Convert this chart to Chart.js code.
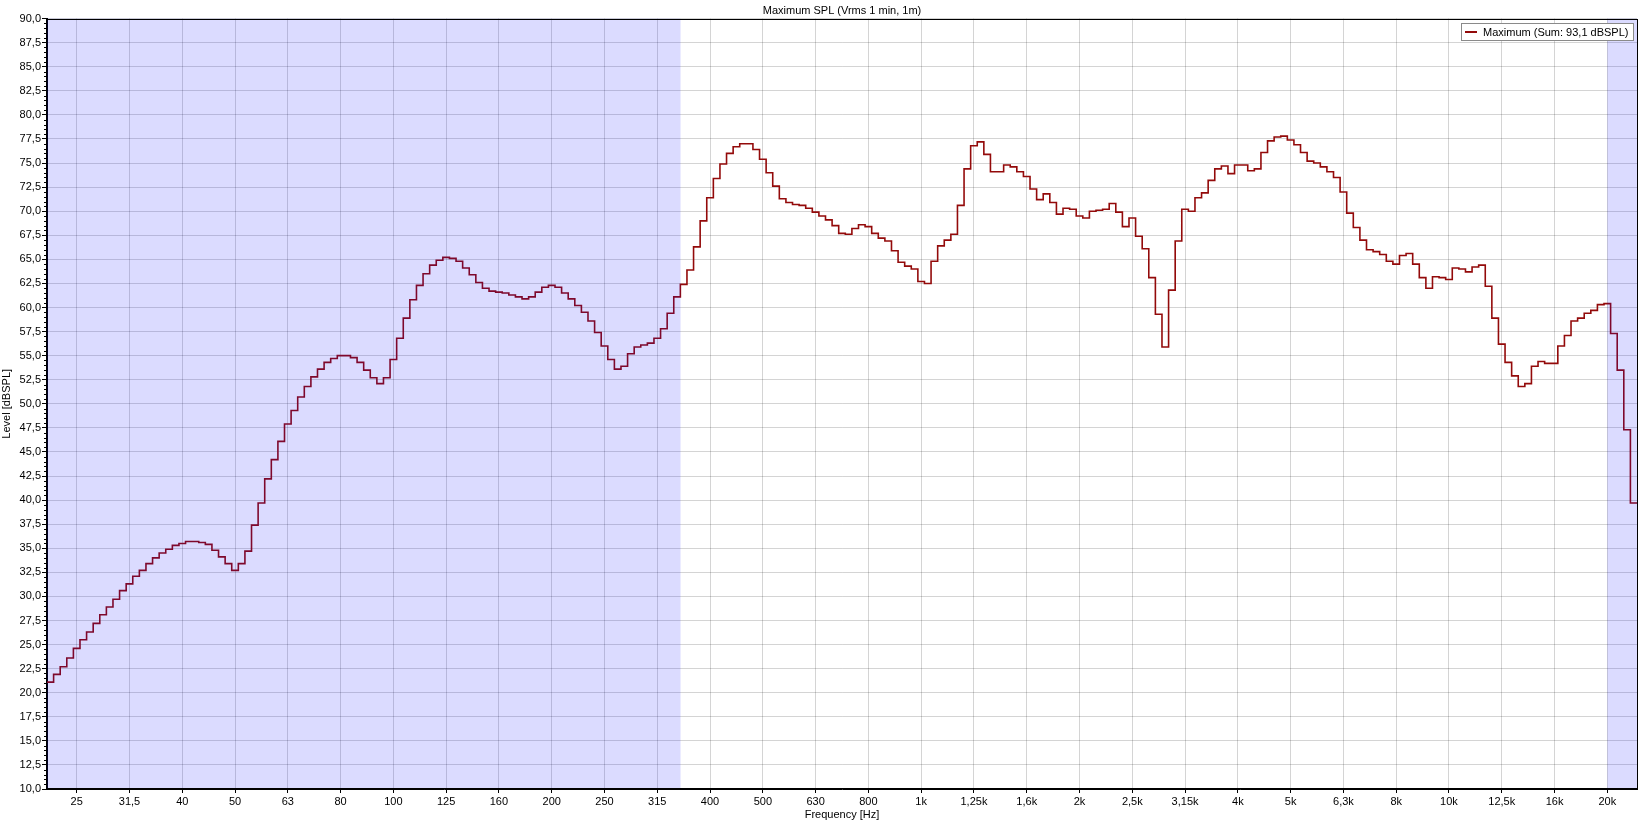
<!DOCTYPE html>
<html>
<head>
<meta charset="utf-8">
<title>Maximum SPL</title>
<script src="https://cdn.jsdelivr.net/npm/chart.js@4.4.1/dist/chart.umd.min.js"></script>
<style>
  html, body { margin: 0; padding: 0; background: #fff; }
  #wrap { width: 1643px; height: 824px; }
</style>
</head>
<body>
<div id="wrap"><canvas id="splChart"></canvas></div>
<script>
// nominal third-octave centres used as x tick positions
const terzFreqs = [25, 31.5, 40, 50, 63, 80, 100, 125, 160, 200, 250, 315, 400, 500, 630, 800,
  1000, 1250, 1600, 2000, 2500, 3150, 4000, 5000, 6300, 8000, 10000, 12500, 16000, 20000];
const terzLabels = ['25', '31,5', '40', '50', '63', '80', '100', '125', '160', '200', '250', '315', '400', '500', '630', '800',
  '1k', '1,25k', '1,6k', '2k', '2,5k', '3,15k', '4k', '5k', '6,3k', '8k', '10k', '12,5k', '16k', '20k'];

// level per 1/24 octave band, band 0 = 22,4 Hz ... band 240 = 22,4 kHz
const maxLevels = [
  21.1, 21.9, 22.7, 23.6, 24.6, 25.5, 26.3, 27.2,
  28.1, 28.9, 29.7, 30.6, 31.3, 32.1, 32.7, 33.4,
  34.0, 34.5, 34.9, 35.3, 35.5, 35.7, 35.7, 35.6,
  35.4, 34.8, 34.1, 33.4, 32.7, 33.4, 34.7, 37.4,
  39.7, 42.2, 44.2, 46.1, 47.9, 49.3, 50.7, 51.8,
  52.8, 53.6, 54.3, 54.7, 55.0, 55.0, 54.8, 54.3,
  53.5, 52.7, 52.1, 52.7, 54.6, 56.8, 58.9, 60.8,
  62.3, 63.5, 64.4, 64.9, 65.2, 65.1, 64.8, 64.1,
  63.4, 62.6, 62.0, 61.7, 61.6, 61.5, 61.3, 61.1,
  60.9, 61.1, 61.6, 62.1, 62.3, 62.1, 61.5, 60.9,
  60.2, 59.5, 58.6, 57.4, 56.0, 54.6, 53.6, 53.9,
  55.2, 55.9, 56.1, 56.3, 56.8, 57.8, 59.4, 61.1,
  62.4, 63.9, 66.3, 69.0, 71.4, 73.4, 74.9, 76.0,
  76.7, 77.0, 77.0, 76.4, 75.4, 74.0, 72.6, 71.3,
  70.9, 70.7, 70.6, 70.3, 69.9, 69.5, 69.1, 68.5,
  67.7, 67.6, 68.2, 68.6, 68.4, 67.7, 67.2, 66.9,
  65.9, 64.7, 64.3, 64.0, 62.7, 62.5, 64.8, 66.4,
  67.0, 67.6, 70.6, 74.4, 76.8, 77.2, 75.9, 74.1,
  74.1, 74.8, 74.6, 74.1, 73.6, 72.3, 71.2, 71.8,
  70.9, 69.7, 70.3, 70.2, 69.5, 69.3, 70.0, 70.1,
  70.2, 70.8, 69.9, 68.4, 69.3, 67.4, 66.1, 63.1,
  59.3, 55.9, 61.8, 66.9, 70.2, 70.0, 71.4, 71.9,
  73.2, 74.4, 74.7, 73.9, 74.8, 74.8, 74.2, 74.4,
  76.1, 77.3, 77.7, 77.8, 77.4, 76.9, 76.1, 75.2,
  75.0, 74.6, 74.1, 73.5, 72.0, 69.8, 68.3, 67.0,
  66.0, 65.8, 65.5, 64.8, 64.5, 65.4, 65.6, 64.5,
  63.1, 62.0, 63.2, 63.1, 62.9, 64.1, 64.0, 63.7,
  64.2, 64.4, 62.2, 58.9, 56.2, 54.3, 52.9, 51.8,
  52.1, 53.9, 54.4, 54.2, 54.2, 56.0, 57.1, 58.6,
  58.9, 59.4, 59.7, 60.3, 60.4, 57.3, 53.5, 47.3,
  39.7
];
const seriesLabel = 'Maximum (Sum: 93,1 dBSPL)';
const chartTitle = 'Maximum SPL (Vrms 1 min, 1m)';
// valid frequency range, everything outside gets the blue overlay
const validRange = [350, 20000];
const yMin = 10, yMax = 90, yMajor = 2.5, yMinor = 0.5;

const bandsPerTerz = 8;
const firstTerzBand = 4;
const lastBand = maxLevels.length - 1;

// Frequenz -> Bandindex (log. zwischen den Nenn-Terzen interpoliert)
function bandOf(f) {
  for (let j = 0; j < terzFreqs.length - 1; j++) {
    if (f <= terzFreqs[j + 1] || j == terzFreqs.length - 2) {
      const t = Math.log(f / terzFreqs[j]) / Math.log(terzFreqs[j + 1] / terzFreqs[j]);
      return firstTerzBand + bandsPerTerz * (j + t);
    }
  }
}

function isMajor(v) {
  return Math.abs(v / yMajor - Math.round(v / yMajor)) < 1e-6;
}

// Stufen: jeder Punkt sitzt an der linken Bandkante
const stepPoints = maxLevels.map((v, i) => ({ x: i - 0.5, y: v }));
stepPoints.push({ x: lastBand + 0.5, y: maxLevels[lastBand] });

const overlayPlugin = {
  id: 'overlay',
  afterDatasetsDraw(chart) {
    const { ctx, chartArea: a, scales: { x } } = chart;
    const bands = [[x.min, bandOf(validRange[0])], [bandOf(validRange[1]), x.max]];
    ctx.save();
    ctx.fillStyle = 'rgba(0, 0, 255, 0.14)';
    bands.forEach(([b0, b1]) => {
      const x0 = Math.max(x.getPixelForValue(b0), a.left);
      const x1 = Math.min(x.getPixelForValue(b1), a.right);
      ctx.fillRect(x0, a.top, x1 - x0, a.bottom - a.top);
    });
    ctx.restore();
  },
  afterDraw(chart) {
    const { ctx, chartArea: a, scales: { y } } = chart;
    ctx.save();
    // Rahmen
    ctx.strokeStyle = '#000';
    ctx.lineWidth = 1;
    ctx.strokeRect(Math.round(a.left) - 0.5, Math.round(a.top) + 0.5,
      Math.round(a.right - a.left) + 1, Math.round(a.bottom - a.top) - 1);
    // kleine Striche an der y-Achse
    ctx.beginPath();
    y.ticks.forEach(t => {
      if (isMajor(t.value)) return;
      const py = Math.round(y.getPixelForValue(t.value)) + 0.5;
      ctx.moveTo(a.left - 3, py);
      ctx.lineTo(a.left, py);
    });
    ctx.stroke();

    // Legende oben rechts
    const ds = chart.data.datasets[0];
    ctx.font = '11px "Liberation Sans", Arial, sans-serif';
    const textW = ctx.measureText(ds.label).width;
    const boxH = 17;
    const right = Math.round(a.right) - 4;
    const top = Math.round(a.top) + 4;
    const boxW = Math.round(4 + 12 + 6 + textW + 5);
    const left = right - boxW;
    ctx.fillStyle = '#fff';
    ctx.fillRect(left, top, boxW, boxH);
    ctx.strokeStyle = '#8a8a8a';
    ctx.strokeRect(left + 0.5, top + 0.5, boxW, boxH);
    ctx.strokeStyle = ds.borderColor;
    ctx.lineWidth = 2;
    ctx.beginPath();
    ctx.moveTo(left + 4, top + boxH / 2 + 0.5);
    ctx.lineTo(left + 16, top + boxH / 2 + 0.5);
    ctx.stroke();
    ctx.fillStyle = '#000';
    ctx.textBaseline = 'middle';
    ctx.fillText(ds.label, left + 22, top + boxH / 2 + 1);
    ctx.restore();
  }
};

Chart.defaults.font.family = '"Liberation Sans", Arial, sans-serif';
Chart.defaults.font.size = 11;
Chart.defaults.color = '#000';

const ctx = document.getElementById('splChart').getContext('2d');
const splChart = new Chart(ctx, {
  type: 'line',
  data: {
    datasets: [{
      label: seriesLabel,
      data: stepPoints,
      stepped: 'before',
      borderColor: '#930a0a',
      borderWidth: 1.6,
      pointRadius: 0,
      fill: false
    }]
  },
  options: {
    responsive: true,
    maintainAspectRatio: false,
    animation: false,
    devicePixelRatio: 1,
    layout: { padding: { top: 0, right: 6, bottom: 0, left: 0 } },
    plugins: {
      legend: { display: false },
      tooltip: { enabled: false },
      title: {
        display: true,
        text: chartTitle,
        fullSize: false,
        color: '#000',
        font: { size: 11, weight: 'normal', lineHeight: 1.2 },
        padding: { top: 4, bottom: 1.4 }
      }
    },
    scales: {
      x: {
        type: 'linear',
        min: -0.5,
        max: lastBand + 0.5,
        afterBuildTicks: (scale) => {
          scale.ticks = terzFreqs.map((f, j) => ({ value: firstTerzBand + bandsPerTerz * j }));
        },
        afterFit: (scale) => { scale.height = 35; },
        ticks: {
          autoSkip: false,
          maxRotation: 0,
          padding: 2,
          callback: (value, index) => terzLabels[index]
        },
        grid: {
          color: 'rgba(0, 0, 0, 0.17)',
          tickColor: '#000',
          tickLength: 4
        },
        border: { color: '#000', width: 1 },
        title: {
          display: true,
          text: 'Frequency [Hz]',
          padding: { top: 0, bottom: 2 }
        }
      },
      y: {
        min: yMin,
        max: yMax,
        afterFit: (scale) => { scale.width = 47; },
        ticks: {
          stepSize: yMinor,
          autoSkip: false,
          padding: 1,
          callback: (value) => isMajor(value) ? value.toFixed(1).replace('.', ',') : ''
        },
        grid: {
          color: (c) => (c.tick && isMajor(c.tick.value)) ? 'rgba(0, 0, 0, 0.17)' : 'rgba(0, 0, 0, 0)',
          tickColor: (c) => (c.tick && isMajor(c.tick.value)) ? '#000' : 'rgba(0, 0, 0, 0)',
          tickLength: 5
        },
        border: { color: '#000', width: 1 },
        title: {
          display: true,
          text: 'Level [dBSPL]',
          padding: { top: 0, bottom: 0 }
        }
      }
    }
  },
  plugins: [overlayPlugin]
});
</script>
</body>
</html>
